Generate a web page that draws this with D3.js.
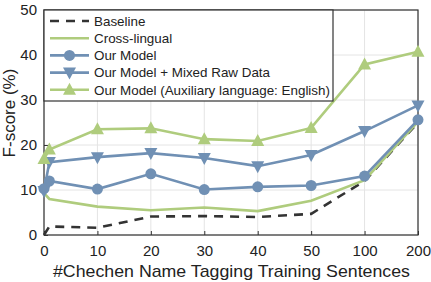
<!DOCTYPE html>
<html>
<head>
<meta charset="utf-8">
<script src="https://cdn.jsdelivr.net/npm/d3@7"></script>
<style>
  body { margin: 0; background: #fff; }
  text { font-family: "Liberation Sans", Arial, sans-serif; fill: #222; }
</style>
</head>
<body>
<div id="chart"></div>
<script>
// x values (sentences) and tick labels
var xValues = [0, 1, 10, 20, 30, 40, 50, 100, 200];
var xTicks = [0, 10, 20, 30, 40, 50, 100, 200];
var yTicks = [0, 10, 20, 30, 40, 50];

// F-score series
var baseline = [0, 1.9, 1.6, 4.1, 4.2, 4.0, 4.7, 12.0, 25.0];
var crossLingual = [9.3, 8.0, 6.3, 5.5, 6.1, 5.3, 7.6, 12.2, 25.2];
var ourModel = [10.3, 12.0, 10.2, 13.6, 10.1, 10.7, 11.0, 13.1, 25.6];
var ourModelMixed = [9.8, 16.2, 17.3, 18.2, 17.1, 15.3, 17.8, 23.1, 28.8];
var ourModelAux = [16.9, 19.0, 23.5, 23.7, 21.3, 20.9, 23.8, 37.9, 40.7];

var blue = "#7090b4";
var green = "#afcc7d";

var series = [
  {name: "Baseline", values: baseline, color: "#333", dash: "9,7", marker: null},
  {name: "Cross-lingual", values: crossLingual, color: green, dash: null, marker: null},
  {name: "Our Model", values: ourModel, color: blue, dash: null, marker: "circle"},
  {name: "Our Model + Mixed Raw Data", values: ourModelMixed, color: blue, dash: null, marker: "down"},
  {name: "Our Model (Auxiliary language: English)", values: ourModelAux, color: green, dash: null, marker: "up"}
];

var W = 431, H = 282;
var margin = {top: 10, right: 13, bottom: 47, left: 44};
var w = W - margin.left - margin.right;
var h = H - margin.top - margin.bottom;

var svg = d3.select("#chart").append("svg")
  .attr("width", W)
  .attr("height", H);

var g = svg.append("g")
  .attr("transform", "translate(" + margin.left + "," + margin.top + ")");

// 0..50 linear, then 100 and 200 at equal steps
var step = w / 7;
var x = d3.scaleLinear()
  .domain([0, 50, 100, 200])
  .range([0, 5 * step, 6 * step, 7 * step]);

var y = d3.scaleLinear()
  .domain([0, 50])
  .range([h, 0]);

// grid
g.append("g").selectAll("line")
  .data(xTicks)
  .enter().append("line")
  .attr("x1", function(d) { return x(d); })
  .attr("x2", function(d) { return x(d); })
  .attr("y1", 0).attr("y2", h)
  .attr("stroke", "#e4e4e4").attr("stroke-width", 1);

g.append("g").selectAll("line")
  .data(yTicks)
  .enter().append("line")
  .attr("x1", 0).attr("x2", w)
  .attr("y1", function(d) { return y(d); })
  .attr("y2", function(d) { return y(d); })
  .attr("stroke", "#e4e4e4").attr("stroke-width", 1);

// axes
var xAxis = d3.axisBottom(x).tickValues(xTicks).tickSize(-4).tickPadding(10);
var yAxis = d3.axisLeft(y).tickValues(yTicks).tickSize(-4).tickPadding(7);

var gx = g.append("g")
  .attr("transform", "translate(0," + h + ")")
  .call(xAxis);
var gy = g.append("g").call(yAxis);

[gx, gy].forEach(function(a) {
  a.select(".domain").remove();
  a.selectAll(".tick line").attr("stroke", "#333");
  a.selectAll(".tick text")
    .style("font-size", "15px")
    .attr("fill", "#222");
});

// frame
g.append("rect")
  .attr("x", 0).attr("y", 0)
  .attr("width", w).attr("height", h)
  .attr("fill", "none")
  .attr("stroke", "#333")
  .attr("stroke-width", 1.2);

// lines
var line = d3.line()
  .x(function(d, i) { return x(xValues[i]); })
  .y(function(d) { return y(d); });

function drawMarker(sel, type, color, cx, cy) {
  if (type === "circle") {
    sel.append("circle").attr("cx", cx).attr("cy", cy).attr("r", 5.5).attr("fill", color);
  } else if (type === "down") {
    sel.append("path")
      .attr("d", "M" + (cx - 6.5) + "," + (cy - 5) + "L" + (cx + 6.5) + "," + (cy - 5) + "L" + cx + "," + (cy + 7) + "Z")
      .attr("fill", color);
  } else if (type === "up") {
    sel.append("path")
      .attr("d", "M" + (cx - 6.5) + "," + (cy + 5) + "L" + (cx + 6.5) + "," + (cy + 5) + "L" + cx + "," + (cy - 7) + "Z")
      .attr("fill", color);
  }
}

series.forEach(function(s) {
  g.append("path")
    .datum(s.values)
    .attr("d", line)
    .attr("fill", "none")
    .attr("stroke", s.color)
    .attr("stroke-width", 2.6)
    .attr("stroke-dasharray", s.dash);
  if (s.marker) {
    var mg = g.append("g");
    s.values.forEach(function(v, i) {
      drawMarker(mg, s.marker, s.color, x(xValues[i]), y(v));
    });
  }
});

// legend
var legend = g.append("g");
legend.append("rect")
  .attr("x", 0).attr("y", 0)
  .attr("width", 289).attr("height", 91)
  .attr("fill", "#fff")
  .attr("stroke", "#333")
  .attr("stroke-width", 1.2);

series.forEach(function(s, i) {
  var ly = 11 + i * 17.2;
  legend.append("line")
    .attr("x1", 6).attr("x2", 45)
    .attr("y1", ly).attr("y2", ly)
    .attr("stroke", s.color)
    .attr("stroke-width", 2.6)
    .attr("stroke-dasharray", s.dash);
  if (s.marker) drawMarker(legend, s.marker, s.color, 25.5, ly);
  legend.append("text")
    .attr("x", 50)
    .attr("y", ly)
    .attr("dy", "0.36em")
    .style("font-size", "13.4px")
    .text(s.name);
});

// axis labels
svg.append("text")
  .attr("x", 53)
  .attr("y", 277)
  .attr("textLength", 357)
  .attr("lengthAdjust", "spacingAndGlyphs")
  .style("font-size", "17px")
  .text("#Chechen Name Tagging Training Sentences");

svg.append("text")
  .attr("transform", "translate(15,113) rotate(-90)")
  .attr("text-anchor", "middle")
  .style("font-size", "17px")
  .text("F-score (%)");
</script>
</body>
</html>
